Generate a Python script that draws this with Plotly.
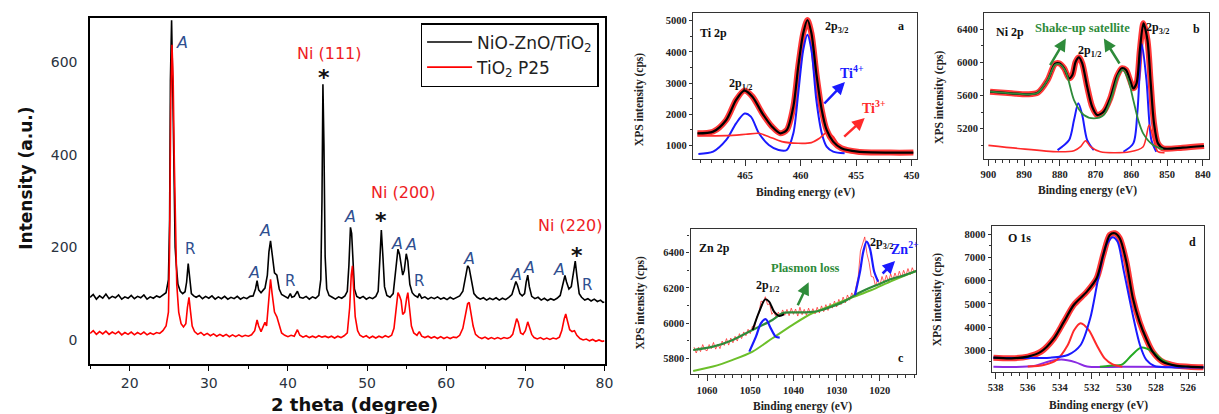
import plotly.graph_objects as go

W, H = 1219, 414

# ---------------- XRD data ----------------
xrd_x_black = [15.0, 15.4, 15.8, 16.2, 16.6, 17.0, 17.4, 17.8, 18.2, 18.6, 19.0, 19.4, 19.8, 20.2, 20.6, 21.0, 21.4, 21.8, 22.2, 22.6,
               23.0, 23.4, 23.8, 24.2, 24.6, 24.9, 25.05, 25.15, 25.3, 25.45, 25.6, 25.75, 25.9, 26.1, 26.4, 26.7, 27.0, 27.2, 27.4, 27.6,
               27.8, 28.1, 28.4, 28.8, 29.2, 29.6, 30.0, 30.4, 30.8, 31.2, 31.6, 32.0, 32.4, 32.8, 33.2, 33.6, 34.0, 34.4, 34.8, 35.2,
               35.6, 35.9, 36.1, 36.3, 36.6, 36.9, 37.1, 37.4, 37.6, 37.8, 38.0, 38.3, 38.6, 38.9, 39.2, 39.6, 40.0, 40.3, 40.5, 40.8,
               41.2, 41.5, 41.9, 42.3, 42.7, 43.1, 43.5, 43.9, 44.15, 44.3, 44.42, 44.55, 44.7, 44.9, 45.2, 45.6, 46.0, 46.4, 46.8, 47.2,
               47.5, 47.7, 47.9, 48.05, 48.2, 48.4, 48.7, 49.1, 49.5, 49.9, 50.3, 50.7, 51.1, 51.4, 51.6, 51.8, 52.0, 52.2, 52.5, 52.9,
               53.3, 53.6, 53.9, 54.1, 54.3, 54.5, 54.7, 54.95, 55.15, 55.4, 55.7, 56.0, 56.4, 56.6, 56.9, 57.3, 57.7, 58.1, 58.5, 58.9,
               59.3, 59.7, 60.1, 60.5, 60.9, 61.3, 61.7, 62.1, 62.4, 62.7, 62.9, 63.2, 63.5, 63.9, 64.3, 64.7, 65.1, 65.5, 65.9, 66.3,
               66.7, 67.1, 67.5, 67.9, 68.3, 68.6, 68.8, 69.0, 69.3, 69.6, 69.9, 70.1, 70.3, 70.5, 70.8, 71.2, 71.6, 72.0, 72.4, 72.8,
               73.2, 73.6, 74.0, 74.4, 74.7, 75.0, 75.2, 75.5, 75.8, 76.1, 76.3, 76.5, 76.8, 77.1, 77.5, 77.9, 78.3, 78.7, 79.1, 79.5,
               79.8, 80.0]
xrd_y_black = [92, 98, 88, 95, 90, 99, 89, 94, 91, 97, 88, 93, 90, 96, 89, 94, 91, 97, 88, 93,
               90, 95, 92, 97, 102, 130, 260, 560, 690, 540, 360, 200, 160, 120, 105, 100, 104, 125, 165, 125,
               100, 95, 92, 96, 89, 94, 90, 95, 88, 93, 89, 94, 88, 92, 89, 94, 88, 92, 89, 94,
               95, 110, 128, 108, 102, 108, 112, 140, 190, 214, 180, 145, 140, 110, 98, 94, 90, 100, 92, 94,
               105, 92, 90, 94, 88, 93, 90, 96, 130, 300, 552, 420, 180, 110, 96, 92, 88, 93, 90, 95,
               105, 160, 243, 230, 170, 110, 94, 90, 94, 88, 92, 89, 94, 105, 170, 237, 180, 115, 96, 92,
               100, 150, 196, 185, 165, 140, 150, 186, 170, 120, 102, 96, 92, 100, 90, 93, 88, 92, 89, 93,
               88, 91, 87, 92, 88, 91, 95, 105, 135, 160, 155, 125, 100, 92, 88, 91, 86, 90, 87, 91,
               86, 90, 87, 92, 98, 115, 126, 118, 100, 95, 100, 125, 140, 115, 94, 89, 92, 86, 90, 85,
               89, 86, 90, 96, 115, 139, 125, 110, 115, 150, 170, 140, 100, 92, 86, 89, 84, 88, 83, 86,
               81, 82]

xrd_x_red = [15.0, 15.4, 15.8, 16.2, 16.6, 17.0, 17.4, 17.8, 18.2, 18.6, 19.0, 19.4, 19.8, 20.2, 20.6, 21.0, 21.4, 21.8, 22.2, 22.6,
             23.0, 23.4, 23.8, 24.2, 24.6, 24.9, 25.05, 25.2, 25.35, 25.5, 25.65, 25.8, 25.95, 26.2, 26.5, 26.8, 27.1, 27.3, 27.5, 27.7,
             27.9, 28.2, 28.6, 29.0, 29.4, 29.8, 30.2, 30.6, 31.0, 31.4, 31.8, 32.2, 32.6, 33.0, 33.4, 33.8, 34.2, 34.6, 35.0, 35.4,
             35.8, 36.1, 36.3, 36.6, 36.9, 37.1, 37.3, 37.55, 37.8, 38.0, 38.3, 38.6, 38.9, 39.2, 39.6, 40.0, 40.4, 40.8, 41.2, 41.5,
             41.9, 42.3, 42.7, 43.1, 43.5, 43.9, 44.3, 44.7, 45.1, 45.5, 45.9, 46.3, 46.7, 47.1, 47.5, 47.8, 48.0, 48.15, 48.3, 48.5,
             48.8, 49.1, 49.5, 49.9, 50.3, 50.7, 51.1, 51.5, 51.9, 52.3, 52.7, 53.1, 53.4, 53.7, 53.9, 54.1, 54.3, 54.5, 54.75, 55.0,
             55.15, 55.35, 55.6, 55.9, 56.3, 56.6, 56.9, 57.3, 57.7, 58.1, 58.5, 58.9, 59.3, 59.7, 60.1, 60.5, 60.9, 61.3, 61.7, 62.1,
             62.4, 62.7, 62.9, 63.1, 63.4, 63.7, 64.1, 64.5, 64.9, 65.3, 65.7, 66.1, 66.5, 66.9, 67.3, 67.7, 68.1, 68.4, 68.7, 68.9,
             69.1, 69.4, 69.7, 70.0, 70.3, 70.5, 70.8, 71.1, 71.5, 71.9, 72.3, 72.7, 73.1, 73.5, 73.9, 74.3, 74.6, 74.9, 75.1, 75.3,
             75.6, 75.9, 76.2, 76.5, 76.9, 77.3, 77.7, 78.1, 78.5, 78.9, 79.3, 79.7, 80.0]
xrd_y_red = [14, 20, 12, 18, 13, 19, 12, 17, 13, 18, 11, 16, 12, 17, 11, 16, 12, 17, 11, 15,
             12, 16, 14, 20, 30, 60, 200, 520, 637, 560, 380, 200, 120, 60, 35, 28, 35, 70, 92, 60,
             30, 18, 12, 16, 10, 14, 9, 13, 8, 12, 8, 12, 7, 11, 7, 11, 7, 10, 8, 11,
             20, 43, 30, 18, 30, 38, 30, 80, 131, 100, 60, 50, 30, 15, 10, 7, 10, 8, 22, 10,
             6, 9, 5, 8, 5, 9, 6, 8, 5, 8, 4, 8, 5, 9, 15, 70, 140, 160, 110, 50,
             20, 10, 6, 9, 4, 8, 4, 8, 5, 9, 6, 10, 25, 70, 102, 95, 85, 55, 60, 90,
             102, 70, 30, 15, 10, 18, 8, 5, 8, 4, 7, 3, 7, 3, 6, 3, 6, 5, 10, 25,
             55, 78, 81, 60, 30, 12, 6, 3, 6, 2, 5, 2, 5, 2, 5, 3, 6, 12, 35, 46,
             38, 15, 12, 20, 39, 30, 12, 5, 2, 5, 1, 4, 1, 4, 2, 6, 20, 45, 56, 42,
             22, 18, 20, 10, 3, 0, 2, -2, 1, -3, 0, -3, -2]

xrd_x_ticks = [20, 30, 40, 50, 60, 70, 80]
xrd_y_ticks = [0, 200, 400, 600]

# phase labels: (2theta, intensity) / (text, 2theta, intensity)
xrd_labels_A = [(26.6, 642), (35.7, 145), (37.1, 237), (47.9, 266), (53.8, 209), (55.5, 207),
                (62.9, 175), (68.8, 142), (70.5, 156), (74.3, 153)]
xrd_labels_R = [(27.6, 196), (40.3, 128), (56.6, 128), (77.8, 119)]
xrd_labels_Ni = [("Ni (111)", 45.3, 619), ("Ni (200)", 54.6, 318), ("Ni (220)", 75.7, 247)]
xrd_labels_star = [(44.5, 567), (51.8, 258), (76.5, 182)]

# ---------------- XPS (a) Ti 2p ----------------
ti_fit_x = [469.31, 467.89, 466.71, 465.82, 465.09, 464.35, 463.46, 462.58, 461.84, 461.25, 460.66, 460.22,
            459.77, 459.39, 459.03, 458.59, 458.10, 457.66, 457.07, 456.33, 454.86, 451.91, 449.84]
ti_fit_y = [1385, 1439, 1813, 2455, 2755, 2562, 2027, 1599, 1385, 1492, 2241, 3525,
            4595, 5023, 4595, 3311, 2134, 1492, 1118, 904, 796, 765, 765]
ti4_x = [469.22, 467.89, 466.71, 465.82, 465.05, 464.49, 463.76, 462.87, 461.99, 461.25, 460.66, 460.22,
         459.77, 459.39, 459.03, 458.59, 458.10, 457.66, 457.07, 456.04]
ti4_y = [722, 797, 1171, 1706, 2020, 1920, 1385, 1011, 850, 850, 1385, 2669,
         4060, 4550, 4060, 2455, 1385, 957, 797, 743]
ti3_x = [469.31, 466.71, 464.94, 463.76, 462.87, 461.69, 460.22, 459.03, 458.30, 457.66, 457.07, 456.48, 455.89, 454.86]
ti3_y = [1300, 1310, 1353, 1385, 1278, 1118, 1064, 1086, 1225, 1406, 1278, 957, 797, 743]

# ---------------- XPS (b) Ni 2p ----------------
ni_fit_x = [899.54, 893.55, 888.95, 886.19, 883.43, 881.40, 880.20, 878.82, 877.44, 876.52, 875.60, 874.68, 873.76,
            872.38, 870.99, 869.61, 867.77, 865.93, 864.09, 862.71, 861.51, 860.41, 859.48, 858.56, 857.64, 856.63,
            855.52, 854.60, 853.68, 852.58, 851.20, 845.67, 839.69]
ni_fit_y = [5647, 5627, 5615, 5635, 5788, 5981, 5989, 5929, 5808, 5848, 6009, 6062, 5989,
            5707, 5466, 5365, 5405, 5566, 5828, 5929, 5909, 5788, 5687, 5748, 6150, 6472,
            6271, 5748, 5264, 5023, 4963, 4971, 4991]
ni_sat_x = [899.54, 893.55, 888.95, 886.19, 883.43, 881.40, 880.20, 878.36, 876.06, 873.30, 870.53, 867.77, 865.47,
            863.63, 862.43, 860.87, 859.48, 858.10, 856.72, 853.96, 851.20]
ni_sat_y = [5647, 5627, 5615, 5635, 5788, 5969, 5981, 5888, 5546, 5365, 5325, 5365, 5586,
            5848, 5909, 5788, 5546, 5305, 5144, 5003, 4950]
ni_main_x = [880.66, 877.44, 876.06, 874.86, 873.76, 872.38, 870.53, None,
             862.25, 859.48, 858.29, 857.09, 855.80, 854.42, 853.04]
ni_main_y = [4942, 5063, 5305, 5506, 5365, 5063, 4942, None,
             4922, 5023, 5425, 6223, 5788, 5063, 4922]
ni_minor_x = [900.0, 891.71, 880.66, 876.06, 874.22, 872.84, 871.45, 868.69, 860.41, 856.72, 855.06, 853.78, 852.58, 850.74]
ni_minor_y = [4999, 4962, 4922, 4934, 4983, 5055, 4983, 4922, 4922, 4983, 5244, 5063, 4922, 4910]

# ---------------- XPS (c) Zn 2p ----------------
zn_data_x = [1063.0, 1062.5, 1062.0, 1061.5, 1061.0, 1060.5, 1060.0, 1059.5, 1059.0, 1058.5, 1058.0, 1057.5, 1057.0,
             1056.5, 1056.0, 1055.5, 1055.0, 1054.5, 1054.0, 1053.5, 1053.0, 1052.5, 1052.0, 1051.5, 1051.0, 1050.5,
             1050.0, 1049.5, 1049.0, 1048.5, 1048.0, 1047.5, 1047.0, 1046.5, 1046.0, 1045.5, 1045.0, 1044.5, 1044.0,
             1043.5, 1043.0, 1042.5, 1042.0, 1041.5, 1041.0, 1040.5, 1040.0, 1039.5, 1039.0, 1038.5, 1038.0, 1037.5,
             1037.0, 1036.5, 1036.0, 1035.5, 1035.0, 1034.5, 1034.0, 1033.5, 1033.0, 1032.5, 1032.0, 1031.5, 1031.0,
             1030.5, 1030.0, 1029.5, 1029.0, 1028.5, 1028.0, 1027.5, 1027.0, 1026.5, 1026.0, 1025.5, 1025.0, 1024.5,
             1024.0, 1023.5, 1023.0, 1022.5, 1022.0, 1021.5, 1021.0, 1020.5, 1020.0, 1019.5, 1019.0, 1018.5, 1018.0,
             1017.5, 1017.0, 1016.5, 1016.0, 1015.5, 1015.0, 1014.5, 1014.0, 1013.5, 1013.0, 1012.5, 1012.0]
zn_data_y = [5863, 5830, 5862, 5838, 5878, 5850, 5842, 5878, 5855, 5890, 5852, 5880, 5855,
             5898, 5873, 5912, 5875, 5915, 5888, 5925, 5898, 5940, 5912, 5950, 5928, 5965,
             5940, 5982, 5975, 6035, 6055, 6125, 6120, 6150, 6105, 6110, 6050, 6065, 6030,
             6062, 6040, 6075, 6045, 6078, 6042, 6085, 6050, 6080, 6040, 6090, 6048, 6078,
             6045, 6085, 6050, 6082, 6052, 6090, 6058, 6098, 6065, 6105, 6072, 6112, 6085,
             6125, 6092, 6135, 6105, 6148, 6115, 6160, 6130, 6172, 6150, 6215, 6265, 6410,
             6445, 6490, 6395, 6345, 6265, 6262, 6210, 6250, 6215, 6265, 6228, 6272, 6235,
             6280, 6245, 6285, 6252, 6295, 6260, 6300, 6268, 6310, 6275, 6315, 6285]
zn_bg_x = [1063.21, 1058.62, 1054.04, 1049.45, 1044.86, 1040.28, 1035.69, 1031.10, 1026.51, 1021.93, 1017.34, 1011.61]
zn_bg_y = [5728, 5753, 5791, 5838, 5914, 5989, 6056, 6100, 6145, 6188, 6239, 6296]
zn_plasmon_x = [1063.21, 1058.62, 1054.04, 1050.21, 1047.92, 1044.86, 1042.57, 1040.28, 1037.22, 1034.16, 1031.10,
                1028.04, 1025.75, 1023.46, 1020.40, 1017.37, 1014.28, 1011.61]
zn_plasmon_y = [5847, 5866, 5904, 5952, 5980, 6018, 6056, 6061, 6061, 6069, 6094,
                6126, 6160, 6188, 6220, 6251, 6273, 6296]
zn_fit_x = [1049.45, 1047.92, 1046.54, 1045.63, 1044.48, 1043.33, 1042.19]
zn_fit_y = [5961, 6065, 6135, 6122, 6065, 6041, 6050]
zn_peak_x = [1050.21, 1048.68, 1047.54, 1046.39, 1045.24, 1044.10, 1043.18, None,
             1025.75, 1024.60, 1023.84, 1023.07, 1022.31, 1021.31, 1020.40]
zn_peak_y = [5838, 5923, 5999, 6022, 5970, 5923, 5917, None,
             6160, 6292, 6406, 6463, 6425, 6292, 6236]

# ---------------- XPS (d) O 1s ----------------
o_fit_x = [538.14, 537.02, 535.99, 535.17, 534.36, 533.74, 533.13, 532.31, 531.70, 531.29, 530.88, 530.57,
           530.26, 529.85, 529.44, 529.03, 528.62, 528.21, 527.60, 526.78, 525.96, 525.04]
o_fit_y = [2684, 2655, 2727, 2943, 3517, 4236, 4954, 5529, 6104, 7110, 7972, 8044,
           7828, 6822, 5242, 4236, 3517, 2943, 2511, 2339, 2296, 2267]
o_lattice_x = [538.14, 534.6, 533.5, 532.7, 532.1, 531.6, 531.1, 530.7, 530.4, 530.0, 529.4, 529.0, 528.6, 528.1, 527.2, 525.04]
o_lattice_y = [2684, 2684, 2799, 3230, 4380, 6104, 7541, 7871, 7685, 6391, 4380, 3230, 2583, 2325, 2267, 2262]
o_vac_x = [536.0, 535.0, 534.2, 533.5, 533.1, 532.7, 532.2, 531.7, 531.2, 530.7, 530.1]
o_vac_y = [2300, 2368, 2583, 3230, 3877, 4164, 3877, 3230, 2655, 2396, 2296]
o_low_x = [531.5, 530.9, 530.1, 529.5, 528.93, 528.2, 527.6, 526.8, 526.0]
o_low_y = [2290, 2339, 2396, 2799, 3115, 2943, 2583, 2339, 2290]
o_high_x = [538.14, 535.6, 534.8, 533.9, 533.0, 532.3, 530.0, 525.04]
o_high_y = [2290, 2320, 2500, 2600, 2480, 2300, 2290, 2280]


def px(x):
    return x / W


def py(y):
    return 1 - y / H


fig = go.Figure()

# XRD traces
fig.add_trace(go.Scatter(x=xrd_x_black, y=xrd_y_black, mode="lines", name="NiO-ZnO/TiO<sub>2</sub>",
                         line=dict(color="black", width=1.6), xaxis="x", yaxis="y"))
fig.add_trace(go.Scatter(x=xrd_x_red, y=xrd_y_red, mode="lines", name="TiO<sub>2</sub> P25",
                         line=dict(color="#ff0000", width=1.6), xaxis="x", yaxis="y"))

RED_D = "rgba(255,20,20,0.85)"
BLUE = "#1a1aff"
RED = "#ff2a2a"
DGREEN = "#2e8b3a"
LGREEN = "#6cbf2a"
PURPLE = "#8a2be2"


def xps(x, y, color, width, ax, shape="spline"):
    fig.add_trace(go.Scatter(x=x, y=y, mode="lines", showlegend=False, hoverinfo="skip",
                             line=dict(color=color, width=width, shape=shape, smoothing=0.8),
                             xaxis="x" + ax, yaxis="y" + ax, connectgaps=False))


# (a)
xps(ti_fit_x, ti_fit_y, RED_D, 6, "2")
xps(ti4_x, ti4_y, BLUE, 2, "2")
xps(ti3_x, ti3_y, RED, 1.6, "2")
xps(ti_fit_x, ti_fit_y, "black", 2.2, "2")
# (b)
xps(ni_fit_x, ni_fit_y, RED_D, 6, "3")
xps(ni_main_x, ni_main_y, BLUE, 2, "3")
xps(ni_minor_x, ni_minor_y, RED, 1.6, "3")
xps(ni_fit_x, ni_fit_y, "black", 2.2, "3")
xps(ni_sat_x, ni_sat_y, DGREEN, 1.8, "3")
# (c)
xps(zn_data_x, zn_data_y, "rgba(255,40,40,0.75)", 1, "4", shape="linear")
xps(zn_bg_x, zn_bg_y, LGREEN, 2, "4")
xps(zn_plasmon_x, zn_plasmon_y, DGREEN, 2.2, "4")
xps(zn_peak_x, zn_peak_y, BLUE, 2.2, "4")
xps(zn_fit_x, zn_fit_y, "black", 2, "4")
# (d)
xps(o_fit_x, o_fit_y, RED_D, 6, "5")
xps(o_high_x, o_high_y, PURPLE, 2, "5")
xps(o_low_x, o_low_y, "#22aa22", 2, "5")
xps(o_vac_x, o_vac_y, RED, 2, "5")
xps(o_lattice_x, o_lattice_y, BLUE, 2, "5")
xps(o_fit_x, o_fit_y, "black", 2.2, "5")

# ---------------- axes ----------------
xrd_tickfont = dict(family="DejaVu Sans", size=14, color="#2a3340")
serif_tick = dict(family="Liberation Serif", size=10.5, color="#222222", weight="bold")

layout = dict(
    width=W, height=H, margin=dict(l=0, r=0, t=0, b=0),
    paper_bgcolor="white", plot_bgcolor="white",
    showlegend=True,
    legend=dict(x=px(601), y=py(23), xanchor="right", yanchor="top",
                bgcolor="white", bordercolor="black", borderwidth=1.5,
                font=dict(family="DejaVu Sans", size=17, color="#222222"),
                itemwidth=45, tracegroupgap=0),
    xaxis=dict(domain=[px(87), px(607)], range=[15, 80], tickvals=xrd_x_ticks,
               ticks="outside", ticklen=5, tickwidth=1.2, tickcolor="black",
               minor=dict(ticks="outside", ticklen=3, dtick=5, tick0=0, tickcolor="black"),
               showline=True, mirror=True, linecolor="black", linewidth=1.5,
               showgrid=False, zeroline=False, tickfont=xrd_tickfont, anchor="y"),
    yaxis=dict(domain=[py(364), py(18)], range=[-52, 695], tickvals=xrd_y_ticks,
               ticks="", ticklabelstandoff=8,
               showline=True, mirror=True, linecolor="black", linewidth=1.5,
               showgrid=False, zeroline=False, tickfont=xrd_tickfont, anchor="x"),
)


def xps_axes(n, xdom, ydom, xr, yr, xt, xminor, yt, yminor):
    common = dict(showline=True, mirror=True, linecolor="#333333", linewidth=1.3,
                  showgrid=False, zeroline=False, tickfont=serif_tick,
                  ticks="outside", tickcolor="#333333", tickwidth=1)
    layout["xaxis%d" % n] = dict(domain=xdom, range=xr, tickvals=xt, ticklen=6,
                                 minor=dict(ticks="outside", ticklen=3, dtick=xminor, tick0=0, tickcolor="#333333"),
                                 anchor="y%d" % n, **common)
    layout["yaxis%d" % n] = dict(domain=ydom, range=yr, tickvals=yt, ticklen=3,
                                 minor=dict(ticks="outside", ticklen=2, dtick=yminor, tick0=0, tickcolor="#333333"),
                                 anchor="x%d" % n, **common)


xps_axes(2, [px(696.5), px(923)], [py(159), py(12.7)], [469.7, 449.5], [560, 5257],
         [465, 460, 455, 450], 1, [1000, 2000, 3000, 4000, 5000], 500)
xps_axes(3, [px(990.7), px(1218)], [py(158.7), py(13.3)], [901.2, 838.3], [4838, 6593],
         [900, 890, 880, 870, 860, 850, 840], 2, [5200, 5600, 6000, 6400], 200)
xps_axes(4, [px(694), px(922)], [py(374.3), py(229)], [1063.8, 1011.6], [5709, 6535],
         [1060, 1050, 1040, 1030, 1020], 2, [5800, 6000, 6200, 6400], 100)
xps_axes(5, [px(998.3), px(1213)], [py(371.7), py(225.7)], [538.25, 525.0], [2078, 8371],
         [538, 536, 534, 532, 530, 528, 526], 0.5, [3000, 4000, 5000, 6000, 7000, 8000], 500)

fig.update_layout(**layout)

ann = []


def note(text, x, y, font, xref="paper", yref="paper", angle=0):
    ann.append(dict(text=text, x=x, y=y, xref=xref, yref=yref, textangle=angle, showarrow=False,
                    xanchor="center", yanchor="middle", font=font))


# XRD axis titles
note("<b>Intensity (a.u.)</b>", px(22), py(178), dict(family="DejaVu Sans", size=17, color="#111111"), angle=-90)
note("<b>2 theta (degree)</b>", px(354), py(404), dict(family="DejaVu Sans", size=18, color="#111111"))
# XRD phase labels
for (xv, yv) in xrd_labels_A:
    note("<i>A</i>", xv, yv, dict(family="DejaVu Sans", size=16, color="#2f4f8f"), "x", "y")
for (xv, yv) in xrd_labels_R:
    note("R", xv, yv, dict(family="DejaVu Sans", size=15, color="#2f4f8f"), "x", "y")
for (t, xv, yv) in xrd_labels_Ni:
    note(t, xv, yv, dict(family="DejaVu Sans", size=16, color="#ee1c24"), "x", "y")
for (xv, yv) in xrd_labels_star:
    note("<b>*</b>", xv, yv, dict(family="DejaVu Sans", size=22, color="#111111"), "x", "y")

# XPS axis titles
serif_title = dict(family="Liberation Serif", size=11.5, color="#222222")
for (xp, yp) in [(643, 100), (945, 97), (643.3, 303), (943.3, 300)]:
    note("<b>XPS intensity (cps)</b>", px(xp), py(yp), serif_title, angle=-90)
for (xp, yp) in [(810, 192.7), (1095, 190.7), (806.7, 406), (1106.7, 405)]:
    note("<b>Binding energy (eV)</b>", px(xp), py(yp), serif_title)

# XPS in-plot labels
lab_font = dict(family="Liberation Serif", size=12, color="#111111")


def lab(text, xp, yp, font=lab_font):
    note(text, px(xp), py(yp), font)


lab("<b>Ti 2p</b>", 716.7, 33)
lab("<b>2p<sub>3/2</sub></b>", 841, 27)
lab("<b>a</b>", 906.7, 26)
lab("<b>2p<sub>1/2</sub></b>", 744.5, 84)
lab("<b>Ti<sup>4+</sup></b>", 857, 72, dict(family="Liberation Serif", size=14, color=BLUE))
lab("<b>Ti<sup>3+</sup></b>", 879, 107, dict(family="Liberation Serif", size=14, color=RED))

lab("<b>Ni 2p</b>", 1016.7, 32)
lab("<b>Shake-up satellite</b>", 1090, 28.5, dict(family="Liberation Serif", size=12.5, color=DGREEN))
lab("<b>2p<sub>1/2</sub></b>", 1097, 51)
lab("<b>2p<sub>3/2</sub></b>", 1166, 28)
lab("<b>b</b>", 1205.7, 29)

lab("<b>Zn 2p</b>", 718.3, 248.3)
lab("<b>Plasmon loss</b>", 809.7, 268.3, dict(family="Liberation Serif", size=12.5, color=DGREEN))
lab("<b>2p<sub>1/2</sub></b>", 771.7, 286)
lab("<b>2p<sub>3/2</sub></b>", 886.7, 243)
lab("<b>Zn<sup>2+</sup></b>", 911, 248, dict(family="Liberation Serif", size=14, color=BLUE))
lab("<b>c</b>", 906.7, 358.3)

lab("<b>O 1s</b>", 1026.7, 238.3)
lab("<b>d</b>", 1201.7, 241.7)

# arrows (head position, tail offsets in pixels)
for (hx, hy, tx, ty, col) in [(850, 82, 828, 105, BLUE), (870, 118, 848, 138, RED),
                              (1073.3, 38.5, 1056.7, 66.7, DGREEN), (1111.7, 38.5, 1128.3, 65, DGREEN),
                              (813.3, 282.3, 801.7, 306.7, DGREEN), (900.7, 261, 886.7, 275, BLUE)]:
    ann.append(dict(text="", x=px(hx), y=py(hy), xref="paper", yref="paper", showarrow=True,
                    ax=tx - hx, ay=ty - hy, arrowhead=2, arrowsize=1, arrowwidth=2.5, arrowcolor=col))

fig.update_layout(annotations=ann)

# remove the default 8px page margin so the figure sits at the window's top-left corner
fig.write_html("out.html", config={"displayModeBar": False},
               post_script="document.body.style.margin='0';document.body.style.padding='0';")
